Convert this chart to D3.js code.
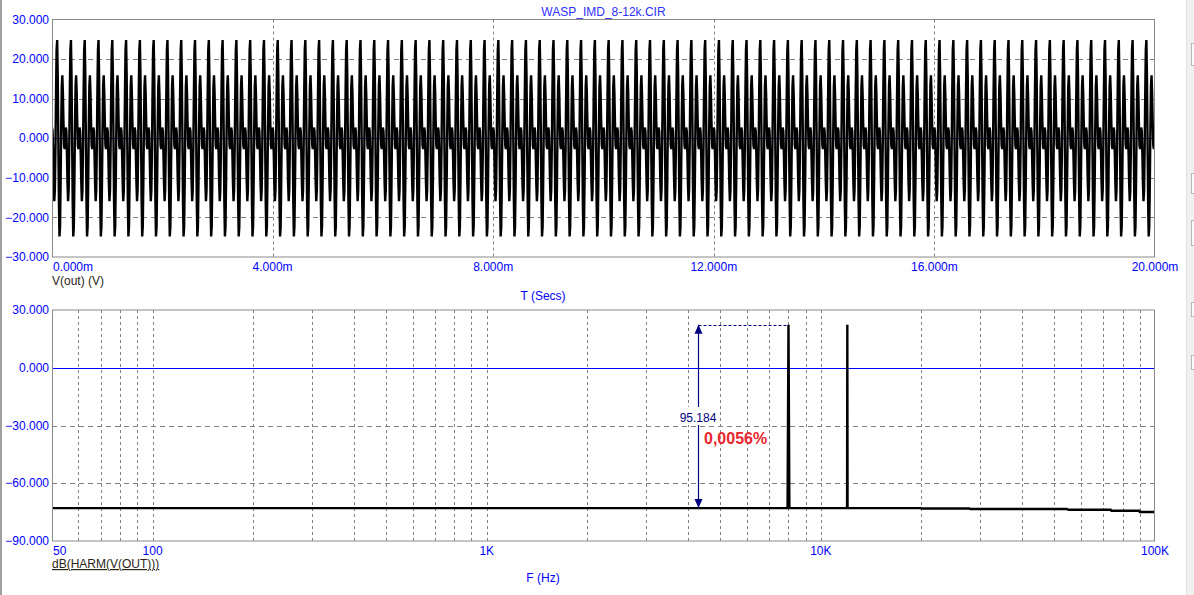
<!DOCTYPE html>
<html><head><meta charset="utf-8">
<script src="https://cdn.jsdelivr.net/npm/d3@7/dist/d3.min.js"></script>
<style>
html,body{margin:0;padding:0;background:#fff;}
svg{display:block;font-family:Arial,"Liberation Sans",sans-serif;}
</style></head>
<body>
<svg id="chart" width="1194" height="595"></svg>
<script>
// ---------- DATA ----------
const title = "WASP_IMD_8-12k.CIR";
// top plot: V(out) transient
const topYTicks = [30, 20, 10, 0, -10, -20, -30];
const topXTicks = [0, 4, 8, 12, 16, 20];             // ms
const topXLabels = ["0.000m", "4.000m", "8.000m", "12.000m", "16.000m", "20.000m"];
const waveCyclePeriod = 0.25;                          // ms (4 kHz envelope of 8k+12k)
const waveCycleCount = 80;
// one repeating cycle of V(out) samples, volts
const waveCycle = [2.7, 1.8, -3.9, -11.4, -15.9, -13.2, -2.7, 11.4, 22.4, 24.8, 15.9, 0,
                   -15.9, -24.8, -22.4, -11.4, 2.7, 13.2, 15.9, 11.4, 3.9, -1.8, -2.7, 0];
const topYLabel = "V(out) (V)";
const topXTitle = "T (Secs)";

// bottom plot: dB(HARM(V(OUT)))
const botYTicks = [30, 0, -30, -60, -90];
const botXTickVals = [50, 100, 1000, 10000, 100000];
const botXTickLabels = ["50", "100", "1K", "10K", "100K"];
const specFreq = [50, 7950, 8000, 8050, 11980, 12000, 12020, 19900, 20000, 27800, 28000,
                  54500, 55000, 73700, 74000, 89700, 90000, 100000];
const specDb   = [-72.9, -72.9, 22.28, -72.9, -72.9, 22.28, -72.9, -72.9, -73.1, -73.1, -73.4,
                  -73.4, -73.75, -73.75, -74.25, -74.25, -74.9, -74.9];
const botYLabel = "dB(HARM(V(OUT)))";
const botXTitle = "F (Hz)";
// measurement annotation
const annotFreq = 4280, annotTop = 22.28, annotBottom = -72.9, annotRefFreq = 8000;
const annotLabel = "95.184";
const thdLabel = "0,0056%";

// ---------- LAYOUT ----------
const svg = d3.select("#chart");
const L = 52, R = 1155;
const top1 = 19.5, bot1 = 257;
const top2 = 310, bot2 = 541;
const blue = "#0000ff", grid = "#808080", frame = "#8a8a8a";

// window chrome
svg.append("rect").attr("x", 0).attr("y", 0).attr("width", 1194).attr("height", 595).attr("fill", "#fff");
svg.append("line").attr("x1", 1).attr("x2", 1).attr("y1", 0).attr("y2", 595).attr("stroke", "#a0a0a0").attr("stroke-width", 2);
svg.append("rect").attr("x", 1186).attr("y", 0).attr("width", 8).attr("height", 595).attr("fill", "#f0f0f0");
svg.append("line").attr("x1", 1186.5).attr("x2", 1186.5).attr("y1", 0).attr("y2", 595).attr("stroke", "#e2e2e2");
[[43, 22], [173, 20], [220, 25], [302, 14], [355, 14]].forEach(([y, h]) => {
  svg.append("rect").attr("x", 1191.5).attr("y", y + .5).attr("width", 6).attr("height", h)
     .attr("fill", "#fbfbfb").attr("stroke", "#b5b5b5");
});

// ---------- TOP PLOT ----------
const xT = d3.scaleLinear().domain([0, 20]).range([L, R]);
const yT = d3.scaleLinear().domain([-30, 30]).range([bot1, top1]);

svg.append("text").attr("x", (L + R) / 2).attr("y", 15.5).attr("text-anchor", "middle")
   .attr("font-size", 12).attr("fill", "#3030ff").text(title);

const gT = svg.append("g");
// grid
gT.selectAll(".hg").data(topYTicks.filter(v => v !== 30 && v !== -30 && v !== 0)).join("line")
  .attr("x1", L).attr("x2", R).attr("y1", d => Math.round(yT(d)) + .5).attr("y2", d => Math.round(yT(d)) + .5)
  .attr("stroke", grid).attr("stroke-dasharray", "5,4");
gT.selectAll(".vg").data(topXTicks.filter(v => v !== 0 && v !== 20)).join("line")
  .attr("y1", top1).attr("y2", bot1).attr("x1", d => Math.round(xT(d)) + .5).attr("x2", d => Math.round(xT(d)) + .5)
  .attr("stroke", grid).attr("stroke-dasharray", "3,3");
// zero line
gT.append("line").attr("x1", L).attr("x2", R).attr("y1", Math.round(yT(0)) + .5).attr("y2", Math.round(yT(0)) + .5)
  .attr("stroke", "#0000cc").attr("stroke-width", 1);

// waveform
const wave = [];
for (let c = 0; c < waveCycleCount; c++) {
  waveCycle.forEach((v, k) => wave.push([(c + k / waveCycle.length) * waveCyclePeriod, v]));
}
wave.push([waveCycleCount * waveCyclePeriod, waveCycle[0]]);
svg.append("clipPath").attr("id", "c1").append("rect").attr("x", L).attr("y", top1).attr("width", R - L).attr("height", bot1 - top1);
gT.append("path").datum(wave).attr("clip-path", "url(#c1)")
  .attr("d", d3.line().x(d => xT(d[0])).y(d => yT(d[1])))
  .attr("fill", "none").attr("stroke", "#000").attr("stroke-width", 2.4).attr("stroke-linejoin", "bevel");

// frame
gT.append("rect").attr("x", L + .5).attr("y", top1).attr("width", R - L - 1).attr("height", bot1 - top1)
  .attr("fill", "none").attr("stroke", frame);

// y labels
gT.selectAll(".yl").data(topYTicks).join("text")
  .attr("x", 49).attr("y", d => yT(d)).attr("dy", "0.35em").attr("text-anchor", "end")
  .attr("font-size", 12).attr("fill", blue).text(d => d3.format(".3f")(d));
// x labels
gT.selectAll(".xl").data(topXTicks).join("text")
  .attr("x", (d, i) => i === 0 ? L + 1 : xT(d)).attr("y", 270.5)
  .attr("text-anchor", (d, i) => i === 0 ? "start" : "middle")
  .attr("font-size", 12).attr("fill", blue).text((d, i) => topXLabels[i]);
gT.append("text").attr("x", L).attr("y", 284.5).attr("font-size", 12).attr("fill", "#2a2418").text(topYLabel);
gT.append("text").attr("x", 543).attr("y", 300).attr("text-anchor", "middle").attr("font-size", 12).attr("fill", blue).text(topXTitle);

// ---------- BOTTOM PLOT ----------
const xB = d3.scaleLog().domain([50, 100000]).range([L, R]);
const yB = d3.scaleLinear().domain([-90, 30]).range([bot2, top2]);
const gB = svg.append("g");

gB.selectAll(".hg").data(botYTicks.filter(v => v !== 30 && v !== -90 && v !== 0)).join("line")
  .attr("x1", L).attr("x2", R).attr("y1", d => Math.round(yB(d)) + .5).attr("y2", d => Math.round(yB(d)) + .5)
  .attr("stroke", grid).attr("stroke-dasharray", "5,4");
gB.selectAll(".vg").data(xB.ticks().filter(v => v > 50 && v < 100000)).join("line")
  .attr("y1", top2).attr("y2", bot2).attr("x1", d => Math.round(xB(d)) + .5).attr("x2", d => Math.round(xB(d)) + .5)
  .attr("stroke", grid).attr("stroke-dasharray", "3,3");
gB.append("line").attr("x1", L).attr("x2", R).attr("y1", Math.round(yB(0)) + .5).attr("y2", Math.round(yB(0)) + .5)
  .attr("stroke", blue).attr("stroke-width", 1.2);

// spectrum
const spec = specFreq.map((f, i) => [f, specDb[i]]);
svg.append("clipPath").attr("id", "c2").append("rect").attr("x", L).attr("y", top2).attr("width", R - L).attr("height", bot2 - top2);
gB.append("path").datum(spec).attr("clip-path", "url(#c2)")
  .attr("d", d3.line().x(d => xB(d[0])).y(d => yB(d[1])))
  .attr("fill", "none").attr("stroke", "#000").attr("stroke-width", 2.4).attr("stroke-linejoin", "miter");

// annotation
const navy = "#000080";
const ax = Math.round(xB(annotFreq)) + .5, ayT = yB(annotTop), ayB = yB(annotBottom);
gB.append("line").attr("x1", ax).attr("x2", xB(annotRefFreq)).attr("y1", Math.round(ayT) + .5).attr("y2", Math.round(ayT) + .5)
  .attr("stroke", navy).attr("stroke-dasharray", "3,2");
gB.append("line").attr("x1", ax).attr("x2", ax).attr("y1", ayT).attr("y2", ayB).attr("stroke", navy).attr("stroke-width", 1.2);
gB.append("path").attr("d", `M${ax},${ayT} L${ax - 4},${ayT + 9} L${ax + 4},${ayT + 9} Z`).attr("fill", navy);
gB.append("path").attr("d", `M${ax},${ayB} L${ax - 4},${ayB - 9} L${ax + 4},${ayB - 9} Z`).attr("fill", navy);
gB.append("rect").attr("x", ax - 20).attr("y", 407).attr("width", 40).attr("height", 18).attr("fill", "#fff");
gB.append("text").attr("x", ax - 0.5).attr("y", 421.5).attr("text-anchor", "middle").attr("font-size", 12).attr("fill", navy).text(annotLabel);
gB.append("text").attr("x", 704).attr("y", 443.5).attr("font-size", 16).attr("font-weight", "bold").attr("fill", "#e8262c").text(thdLabel);

gB.append("rect").attr("x", L + .5).attr("y", top2).attr("width", R - L - 1).attr("height", bot2 - top2)
  .attr("fill", "none").attr("stroke", frame);

gB.selectAll(".yl").data(botYTicks).join("text")
  .attr("x", 49).attr("y", d => yB(d)).attr("dy", "0.35em").attr("text-anchor", "end")
  .attr("font-size", 12).attr("fill", blue).text(d => d3.format(".3f")(d));
gB.selectAll(".xl").data(botXTickVals).join("text")
  .attr("x", (d, i) => i === 0 ? L + 1 : xB(d)).attr("y", 554.5)
  .attr("text-anchor", (d, i) => i === 0 ? "start" : "middle")
  .attr("font-size", 12).attr("fill", blue).text((d, i) => botXTickLabels[i]);
gB.append("text").attr("x", L).attr("y", 568).attr("font-size", 12).attr("fill", "#2a2418")
  .attr("text-decoration", "underline").text(botYLabel);
gB.append("text").attr("x", 543).attr("y", 582).attr("text-anchor", "middle").attr("font-size", 12).attr("fill", blue).text(botXTitle);
</script>
</body></html>
